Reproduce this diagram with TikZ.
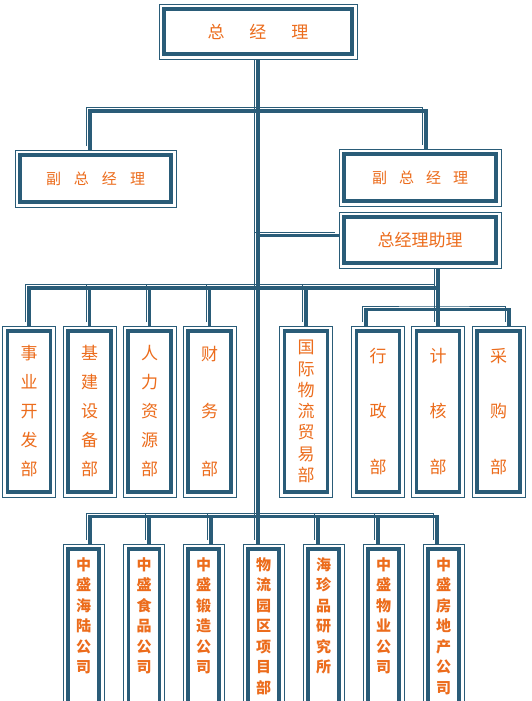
\documentclass[tikz,border=0pt]{standalone}
\usepackage{fontspec}
\newfontfamily\cjk{Noto Sans CJK SC}
\usetikzlibrary{backgrounds}
\definecolor{lineblue}{RGB}{42,92,120}
\definecolor{txtorange}{RGB}{236,108,28}
\begin{document}
\begin{tikzpicture}[x=1pt, y=-1pt,
    unit/.style={draw=lineblue, line width=0.9pt, fill=white, inner sep=0pt, text=txtorange, align=center,
        path picture={\draw[lineblue, line width=3.6pt] ([shift={(5pt,5pt)}]path picture bounding box.south west) rectangle ([shift={(-5pt,-5pt)}]path picture bounding box.north east);}},
    dept/.style={unit, minimum width=53pt, minimum height=171pt},
    sub/.style={unit, minimum width=41pt, minimum height=172pt},
    subtext/.style={anchor=north, inner sep=0pt, text=txtorange, align=center, font=\cjk\bfseries\fontsize{15}{20.5}\selectfont},
    link/.style={line width=3.6pt, draw=lineblue, preaction={draw=lineblue, line width=0.9pt, transform canvas={shift={(-3.5pt,3.5pt)}}}}]
    \useasboundingbox (0,0) rectangle (531,701);
    \clip (0,0) rectangle (531,701);
    \node[unit, minimum width=198pt, minimum height=55pt, font=\cjk\fontsize{17}{20}\selectfont] (gm) at (258,31.5) {总\hspace{25pt}经\hspace{25pt}理};
    \node[unit, minimum width=161pt, minimum height=57pt, font=\cjk\fontsize{15}{18}\selectfont] (vp1) at (95.5,178.5) {副\hspace{13pt}总\hspace{13pt}经\hspace{13pt}理};
    \node[unit, minimum width=162pt, minimum height=57pt, font=\cjk\fontsize{15}{18}\selectfont] (vp2) at (420,177.5) {副\hspace{12pt}总\hspace{12pt}经\hspace{12pt}理};
    \node[unit, minimum width=162pt, minimum height=56pt, font=\cjk\fontsize{17}{20}\selectfont] (asst) at (420,240) {总经理助理};
    \foreach \i/\x/\s/\t in {1/29/29/{事\\业\\开\\发\\部}, 2/89.5/29/{基\\建\\设\\备\\部}, 3/149.5/29/{人\\力\\资\\源\\部}, 4/209.5/57.5/{财\\务\\部},
        5/306/21.3/{国\\际\\物\\流\\贸\\易\\部}, 6/378/55.5/{行\\政\\部}, 7/438/55.5/{计\\核\\部}, 8/498.5/55.5/{采\\购\\部}} {
        \node[dept, font=\cjk\fontsize{17}{\s}\selectfont] (d\i) at (\x,411.5) {\t};
    }
    \foreach \i/\x/\t in {1/83.5/{中\\盛\\海\\陆\\公\\司}, 2/144/{中\\盛\\食\\品\\公\\司}, 3/203.5/{中\\盛\\锻\\造\\公\\司}, 4/263.5/{物\\流\\园\\区\\项\\目\\部},
        5/323.5/{海\\珍\\品\\研\\究\\所}, 6/383.5/{中\\盛\\物\\业\\公\\司}, 7/443.5/{中\\盛\\房\\地\\产\\公\\司}} {
        \node[sub] (s\i) at (\x,630) {};
        \node[subtext] (t\i) at ([yshift=-13.5pt]s\i.north) {\t};
    }
    \coordinate (vpbus) at (258,111);
    \coordinate (asstin) at ([yshift=4.5pt]asst.west);
    \coordinate (deptbus) at (258,288);
    \coordinate (adminbus) at (438,309.5);
    \coordinate (subbus) at (258,516.5);
    \begin{scope}[on background layer]
        \draw[link] (gm.south) -- (gm.south |- s4.north);
        \draw[link] ([xshift=-5.5pt]vp1.north) |- (vpbus) -| ([xshift=6pt]vp2.north);
        \draw[link] (asstin) -- (asstin -| gm.south);
        \draw[link] (d1.north) |- (deptbus -| d7.north);
        \foreach \i in {2,...,5}
            \draw[link] (d\i.north) |- (deptbus);
        \draw[link] (asst.south -| d7.north) -- (d7.north);
        \draw[link] ([xshift=-12pt]d6.north) |- (adminbus) -| ([xshift=10.5pt]d8.north);
        \draw[link] ([xshift=6.5pt]s1.north) |- (subbus) -| ([xshift=-6.5pt]s7.north);
        \foreach \i/\d in {2/5, 3/7.5, 5/-5.5, 6/-5.5}
            \draw[link] ([xshift=\d pt]s\i.north) |- (subbus);
    \end{scope}
\end{tikzpicture}
\end{document}
